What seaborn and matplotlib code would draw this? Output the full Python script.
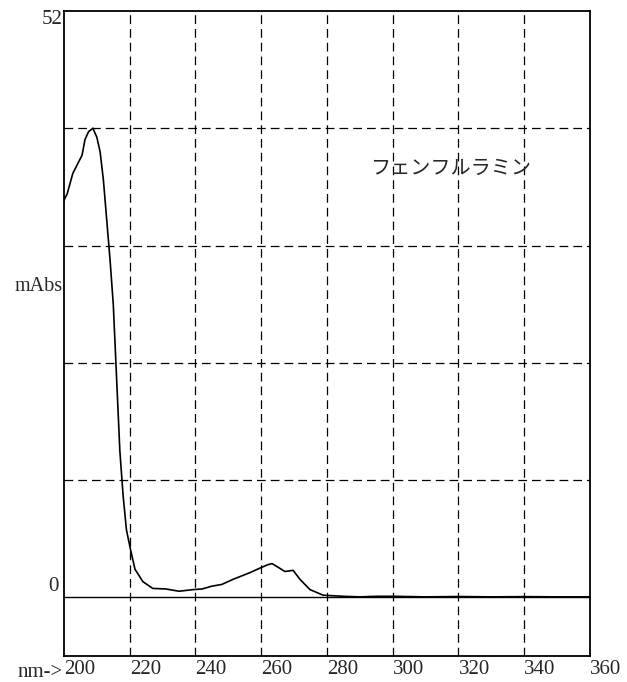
import pandas as pd
import matplotlib
matplotlib.use("Agg")
import matplotlib.pyplot as plt
import seaborn as sns

# spectrum
wavelength = [200, 201, 202.7, 205.5, 206.4, 207.5, 208.8, 210, 211, 212, 213, 214, 215, 216, 217, 218,
              219, 220.2, 221.6, 224, 227, 231, 235, 239.5, 242, 245, 248, 251.4, 256.6, 259.6, 262,
              263.3, 265, 267.2, 269.7, 271.8, 274.8, 278.8, 285, 290, 295, 300, 310, 320, 330, 340,
              350, 360]
absorb = [35.2, 35.8, 37.6, 39.2, 40.6, 41.3, 41.6, 40.8, 39.5, 37.0, 33.5, 30.0, 26.0, 19.5, 13.0, 9.0,
          6.0, 4.3, 2.5, 1.4, 0.8, 0.75, 0.55, 0.7, 0.75, 1.0, 1.15, 1.6, 2.2, 2.6, 2.9,
          3.0, 2.7, 2.3, 2.4, 1.6, 0.7, 0.2, 0.1, 0.05, 0.1, 0.1, 0.05, 0.08, 0.05, 0.07,
          0.05, 0.05]

xticks = [200, 220, 240, 260, 280, 300, 320, 340, 360]
ygrid = [0, 10.4, 20.8, 31.2, 41.6, 52]
compound = "フェンフルラミン"

df = pd.DataFrame({"nm": wavelength, "mAbs": absorb})

sns.set_theme(style="white")
plt.rcParams["font.family"] = ["Liberation Serif", "DejaVu Serif"]

fig = plt.figure(figsize=(6.27, 6.82), dpi=100)
ax = fig.add_axes([0.102, 0.038, 0.839, 0.946])

sns.lineplot(data=df, x="nm", y="mAbs", color="black", linewidth=1.2, ax=ax)

ax.set_xlim(200, 360)
ax.set_ylim(-5.2, 52)

# dashed grid
for x in xticks[1:-1]:
    ax.axvline(x, color="black", linestyle=(0, (7, 4)), linewidth=0.9, zorder=0)
for y in ygrid[1:-1]:
    ax.axhline(y, color="black", linestyle=(0, (7, 4)), linewidth=0.9, zorder=0)
ax.axhline(0, color="black", linewidth=1.0)

ax.set_xticks(xticks)
ax.set_xticklabels([str(t) for t in xticks], ha="left", fontsize=15)
ax.tick_params(axis="x", length=0, pad=3)
ax.set_yticks([])
ax.set_xlabel("")
ax.set_ylabel("")

ax.text(-0.002, -0.010, "nm->", transform=ax.transAxes, ha="right", va="top", fontsize=15)
ax.text(199.5, 51.2, "52", ha="right", va="center", fontsize=15)
ax.text(198.5, 1.0, "0", ha="right", va="center", fontsize=15)
ax.text(199.7, 27.6, "mAbs", ha="right", va="center", fontsize=14.5)

ax.text(293, 38.0, compound, ha="left", va="center", fontsize=14.5,
        family=["Noto Sans CJK JP", "DejaVu Sans"])

for s in ax.spines.values():
    s.set_color("black")
    s.set_linewidth(1.3)

fig.savefig("out.png", dpi=100)
